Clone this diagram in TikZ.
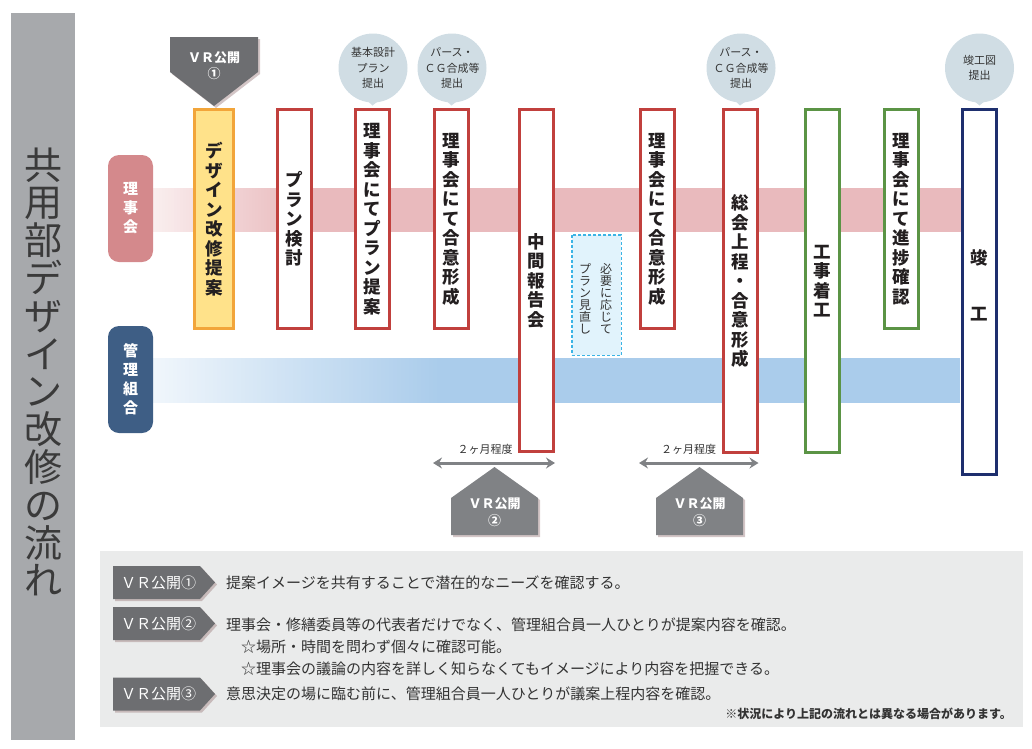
\documentclass[tikz,border=0pt]{standalone}
\usepackage{fontspec}
\newfontfamily\jp{Noto Sans CJK JP}
\usetikzlibrary{arrows.meta,calc}
\definecolor{redb}{HTML}{C1403D}
\definecolor{yelf}{HTML}{FFE28A}
\definecolor{orab}{HTML}{F2A53A}
\definecolor{grnb}{HTML}{5B9445}
\definecolor{navb}{HTML}{1E2F6E}
\definecolor{pinkpill}{HTML}{D4898C}
\definecolor{pinkband}{HTML}{E9BABD}
\definecolor{bluepill}{HTML}{3E5E85}
\definecolor{blueband}{HTML}{AACCEB}
\definecolor{titlebar}{HTML}{A7A9AC}
\definecolor{titletext}{HTML}{3A3A3A}
\definecolor{bubblec}{HTML}{D0DDE4}
\definecolor{vrdark}{HTML}{6D6E71}
\definecolor{vrmid}{HTML}{808285}
\definecolor{panelc}{HTML}{EAEBEB}
\definecolor{txt}{HTML}{333333}
\definecolor{boxtxt}{HTML}{231F20}
\definecolor{dashc}{HTML}{3BB4E5}
\definecolor{dashf}{HTML}{E1F3FC}
\definecolor{shadowc}{HTML}{9E7F80}
\begin{document}
\lineskiplimit=-100pt
\begin{tikzpicture}[x=1pt,y=-1pt,
  stepbox/.style={draw=#1, line width=3pt, fill=white, inner sep=0pt,
    minimum width=34pt, minimum height=219pt, align=center, text=boxtxt,
    font=\jp\bfseries\fontsize{17.5}{19.5}\selectfont},
  boxtext/.style={inner sep=0pt, align=center, text=boxtxt,
    font=\jp\bfseries\fontsize{17.5}{19.5}\selectfont},
  pill/.style={rounded corners=11pt, inner sep=0pt, minimum width=45pt,
    minimum height=107pt, align=center, text=white,
    font=\jp\bfseries\fontsize{15}{19}\selectfont},
  bubble/.style={circle, fill=bubblec, minimum size=69pt, inner sep=0pt,
    align=center, text=txt, font=\jp\fontsize{11}{15.5}\selectfont},
  vrtext/.style={inner sep=0pt, align=center, text=white,
    font=\jp\bfseries\fontsize{13}{16.5}\selectfont},
  tagtext/.style={inner sep=0pt, anchor=west, text=white,
    font=\jp\fontsize{15}{18}\selectfont},
  desc/.style={inner sep=0pt, anchor=west, text=txt,
    font=\jp\fontsize{15}{18}\selectfont},
  smalltext/.style={inner sep=0pt, align=center, text=txt,
    font=\jp\fontsize{12}{12}\selectfont},
  dblarrow/.style={draw=vrmid, line width=3pt,
    {Stealth[length=9pt,width=11pt,inset=3pt]}-{Stealth[length=9pt,width=11pt,inset=3pt]}},
  arrlabel/.style={inner sep=0pt, text=txt, font=\jp\fontsize{11}{13}\selectfont},
  shadowfill/.style={fill=shadowc, opacity=0.45}
]
\useasboundingbox (0,0) rectangle (1032,748);

% title bar
\fill[titlebar] (11,13) rectangle (75,740);
\node[inner sep=0pt, align=center, text=titletext,
  font=\jp\fontsize{38}{37.8}\selectfont] (title) at (43,372)
  {共\\用\\部\\デ\\ザ\\イ\\ン\\改\\修\\の\\流\\れ};

% bands (gradient built from thin strips)
\fill[pinkband] (300,188) rectangle (962,232);
\foreach \i in {0,...,49}{
  \pgfmathsetmacro{\pc}{25+75*\i/49}
  \pgfmathsetmacro{\xa}{153+3*\i}
  \fill[pinkband!\pc!white] (\xa,188) rectangle (\xa+3.4,232);
}
\fill[blueband] (440,358) rectangle (960,403);
\foreach \i in {0,...,71}{
  \pgfmathsetmacro{\pc}{18+82*\i/71}
  \pgfmathsetmacro{\xa}{153+4*\i}
  \fill[blueband!\pc!white] (\xa,358) rectangle (\xa+4.4,403);
}

% pills
\node[pill, fill=pinkpill] (p1) at (130.5,208.5) {理\\事\\会};
\node[pill, fill=bluepill] (p2) at (130.5,379.5) {管\\理\\組\\合};

% step boxes
\node[stepbox=orab, fill=yelf, minimum width=39pt] (b1) at (214,219) {デ\\ザ\\イ\\ン\\改\\修\\提\\案};
\node[stepbox=redb] (b2) at (294.5,219) {プ\\ラ\\ン\\検\\討};
\node[stepbox=redb] (b3) at (372.5,219) {理\\事\\会\\に\\て\\プ\\ラ\\ン\\提\\案};
\node[stepbox=redb] (b4) at (451.5,219) {理\\事\\会\\に\\て\\合\\意\\形\\成};
\node[stepbox=redb, minimum height=342pt] (b5) at (536.5,280.5) {中\\間\\報\\告\\会};
\node[stepbox=redb] (b7) at (657.5,219) {理\\事\\会\\に\\て\\合\\意\\形\\成};
\node[stepbox=redb, minimum height=343pt] (b8) at (740,281) {総\\会\\上\\程\\・\\合\\意\\形\\成};
\node[stepbox=grnb, minimum height=343pt] (b9) at (822.5,281) {工\\事\\着\\工};
\node[stepbox=grnb] (b10) at (901,219) {理\\事\\会\\に\\て\\進\\捗\\確\\認};
\node[stepbox=navb, minimum height=365pt] (b11) at (979.5,292) {};
\node[boxtext] (t11) at (979.5,285.5) {竣\\[37pt]工};

% dashed box
\node[draw=dashc, fill=dashf, dash pattern=on 3pt off 2pt, line width=1.5pt,
  minimum width=49.5pt, minimum height=120.5pt, inner sep=0pt] (d) at (596.5,295) {};
\node[smalltext] (d1) at (606,299) {必\\要\\に\\応\\じ\\て};
\node[smalltext] (d2) at (585,299) {プ\\ラ\\ン\\見\\直\\し};

% bubbles
\node[bubble] (q1) at (373,68) {基本設計\\プラン\\提出};
\node[bubble] (q2) at (452,68) {パース・\\ＣＧ合成等\\提出};
\node[bubble] (q3) at (741,68) {パース・\\ＣＧ合成等\\提出};
\node[bubble] (q4) at (979.5,68) {竣工図\\提出};
\fill[bubblec] ($(q1.south)+(-7,-3)$) -- ($(q1.south)+(7,-3)$) -- ($(b3.north)+(0,-2.5)$) -- cycle;
\fill[bubblec] ($(q2.south)+(-7,-3)$) -- ($(q2.south)+(7,-3)$) -- ($(b4.north)+(0,-2.5)$) -- cycle;
\fill[bubblec] ($(q3.south)+(-7,-3)$) -- ($(q3.south)+(7,-3)$) -- ($(b8.north)+(0,-2.5)$) -- cycle;
\fill[bubblec] ($(q4.south)+(-7,-3)$) -- ($(q4.south)+(7,-3)$) -- ($(b11.north)+(0,-2.5)$) -- cycle;

% VR 1 pentagon
\fill[shadowfill] (172,39) -- (260,39) -- (260,74) -- (216,108) -- (172,74) -- cycle;
\fill[vrdark] (170,37) -- (258,37) -- (258,72) -- (214,106) -- (170,72) -- cycle;
\node[vrtext] (v1) at (214,65.5) {ＶＲ公開\\①};

% double arrows
\coordinate (ay) at (0,463);
\draw[dblarrow] (b4.west |- ay) -- (b5.east |- ay);
\draw[dblarrow] (b7.west |- ay) -- (b8.east |- ay);
\node[arrlabel] (l1) at (485,449) {２ヶ月程度};
\node[arrlabel] (l2) at (688.5,449) {２ヶ月程度};

% VR 2, 3 houses
\fill[shadowfill] (453,500) -- (496,469) -- (540,500) -- (540,537) -- (453,537) -- cycle;
\fill[vrmid] (451,498) -- (494.5,467) -- (538,498) -- (538,535) -- (451,535) -- cycle;
\node[vrtext] (v2) at (494.5,512) {ＶＲ公開\\②};
\fill[shadowfill] (658,500) -- (701,469) -- (745,500) -- (745,537) -- (658,537) -- cycle;
\fill[vrmid] (656,498) -- (699.5,467) -- (743,498) -- (743,535) -- (656,535) -- cycle;
\node[vrtext] (v3) at (699.5,512) {ＶＲ公開\\③};

% bottom panel
\fill[panelc] (100,551) rectangle (1023,727);
\foreach \yy/\lab [count=\i] in {582.5/①,623.5/②,694/③}{
  \fill[shadowfill] (115,\yy-14.5) -- (202,\yy-14.5) -- (217,\yy+2) -- (202,\yy+18.5) -- (115,\yy+18.5) -- cycle;
  \fill[vrdark] (113,\yy-16.5) -- (200,\yy-16.5) -- (215,\yy) -- (200,\yy+16.5) -- (113,\yy+16.5) -- cycle;
  \node[tagtext] (tag\i) at (121,\yy) {ＶＲ公開\lab};
}
\node[desc] (e1) at (226,583) {提案イメージを共有することで潜在的なニーズを確認する。};
\node[desc] (e2) at (226,625) {理事会・修繕委員等の代表者だけでなく、管理組合員一人ひとりが提案内容を確認。};
\node[desc] (e3) at (241,647) {☆場所・時間を問わず個々に確認可能。};
\node[desc] (e4) at (241,669) {☆理事会の議論の内容を詳しく知らなくてもイメージにより内容を把握できる。};
\node[desc] (e5) at (226,694) {意思決定の場に臨む前に、管理組合員一人ひとりが議案上程内容を確認。};
\node[inner sep=0pt, anchor=east, text=txt, font=\jp\bfseries\fontsize{12}{14}\selectfont] (note) at (1012,714) {※状況により上記の流れとは異なる場合があります。};
\end{tikzpicture}
\end{document}
